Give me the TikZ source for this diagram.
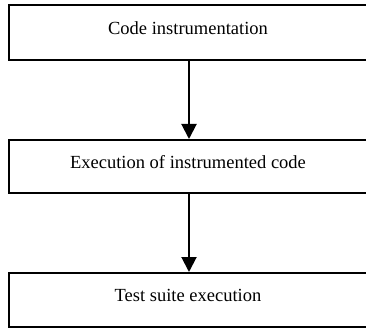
\documentclass[tikz,border=0pt]{standalone}
\usepackage{fontspec}
\setmainfont{Liberation Serif}
\usetikzlibrary{arrows.meta}
\begin{document}
\begin{tikzpicture}[x=1pt,y=1pt,
  stepbox/.style={draw=black, line width=2pt, minimum width=358pt, inner sep=0pt,
    font=\fontsize{18.5}{20}\selectfont, text depth=9pt},
  flow/.style={line width=2pt, -{Triangle[length=15pt,width=15pt]}}]
  \useasboundingbox (0,0) rectangle (366,-328);
  \node[stepbox, minimum height=55pt] (s1) at (188,-32.5) {Code instrumentation};
  \node[stepbox, minimum height=53pt] (s2) at (188,-166.5) {Execution of instrumented code};
  \node[stepbox, minimum height=54pt] (s3) at (188,-300) {Test suite execution};
  \draw[flow] (s1.south -| 189,0) -- (s2.north -| 189,0);
  \draw[flow] (s2.south -| 189,0) -- (s3.north -| 189,0);
\end{tikzpicture}
\end{document}
